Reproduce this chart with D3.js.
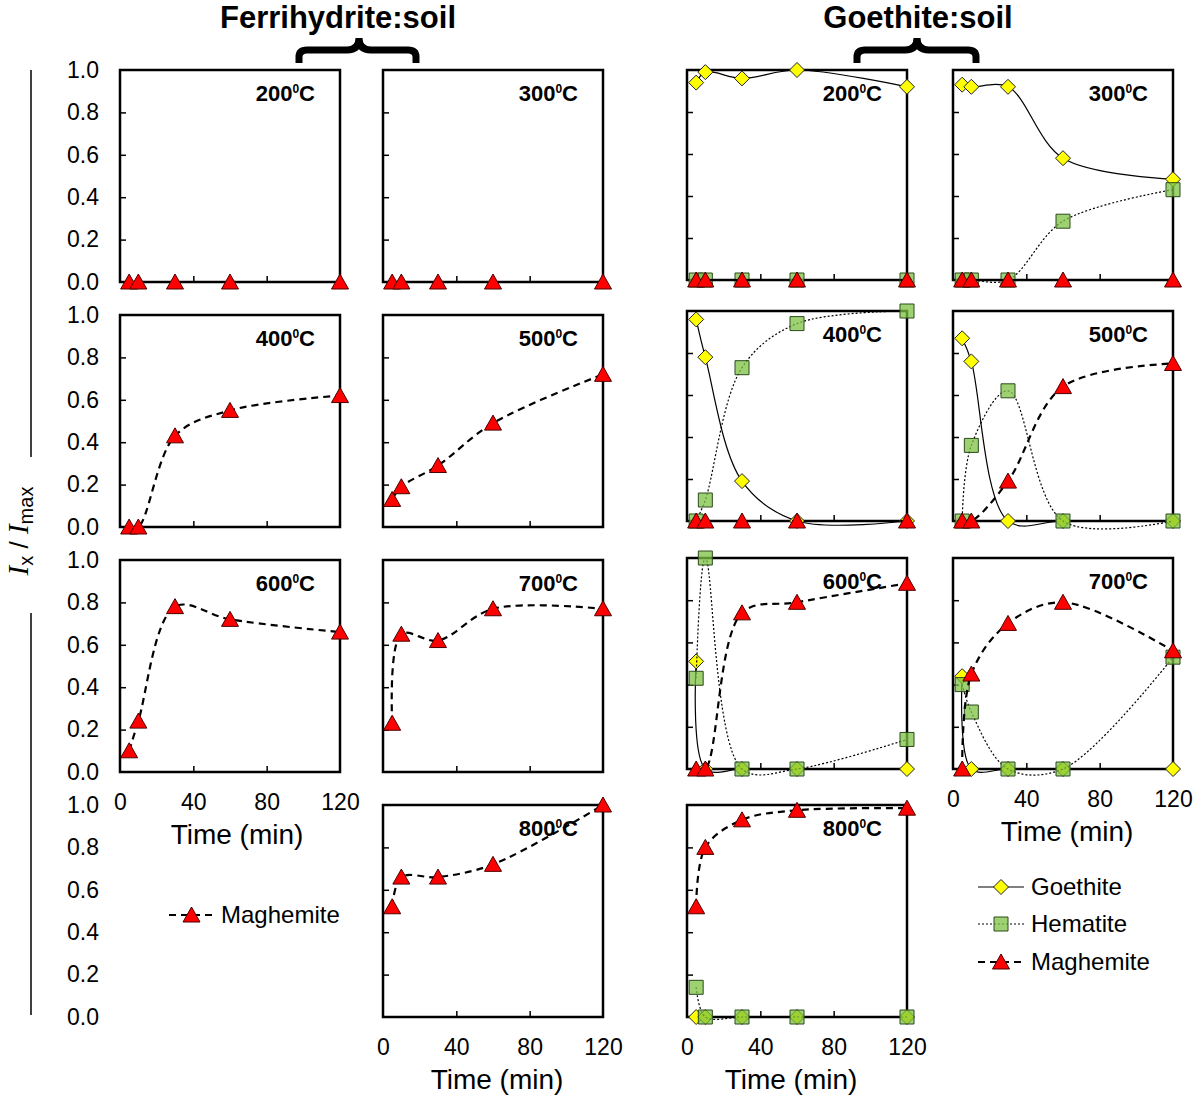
<!DOCTYPE html>
<html>
<head>
<meta charset="utf-8">
<script src="https://cdn.jsdelivr.net/npm/d3@7"></script>
<style>
  body { margin: 0; background: #fff; }
  text { font-family: "Liberation Sans", Arial, sans-serif; fill: #000; }
</style>
</head>
<body>
<div id="chart"></div>
<script>
// ---- data ----
var times = [5, 10, 30, 60, 120];
var temps = [200, 300, 400, 500, 600, 700, 800];
var yTicks = [0, 0.2, 0.4, 0.6, 0.8, 1.0];
var xTicks = [0, 40, 80, 120];

// one row per temperature (200..800), one value per time
var ferriMaghemite = [
  [0, 0, 0, 0, 0],
  [0, 0, 0, 0, 0],
  [0, 0, 0.43, 0.55, 0.62],
  [0.13, 0.19, 0.29, 0.49, 0.72],
  [0.10, 0.24, 0.78, 0.72, 0.66],
  [0.23, 0.65, 0.62, 0.77, 0.77],
  [0.52, 0.66, 0.66, 0.72, 1.0]
];
var goeGoethite = [
  [0.94, 0.99, 0.96, 1.0, 0.92],
  [0.93, 0.92, 0.92, 0.58, 0.48],
  [0.96, 0.78, 0.19, 0, 0],
  [0.87, 0.76, 0, 0, 0],
  [0.51, 0, 0, 0, 0],
  [0.44, 0, 0, 0, 0],
  [0, 0, 0, 0, 0]
];
var goeHematite = [
  [0, 0, 0, 0, 0],
  [0, 0, 0, 0.28, 0.43],
  [0, 0.10, 0.73, 0.94, 1.0],
  [0, 0.36, 0.62, 0, 0],
  [0.43, 1.0, 0, 0, 0.14],
  [0.40, 0.27, 0, 0, 0.53],
  [0.14, 0, 0, 0, 0]
];
var goeMaghemite = [
  [0, 0, 0, 0, 0],
  [0, 0, 0, 0, 0],
  [0, 0, 0, 0, 0],
  [0, 0, 0.19, 0.64, 0.75],
  [0, 0, 0.74, 0.79, 0.88],
  [0, 0.45, 0.69, 0.79, 0.56],
  [0.52, 0.80, 0.93, 0.975, 0.985]
];

// ---- layout ----
var colLeft = [120, 383, 687, 953];
var panelW = 220;
var rowTop = [70, 315, 560, 805];
var panelH = 212;
// goethite panels sit a few px higher than the ferrihydrite ones
var goeTopShift = [0, -4, -2, 0];
var goeBotShift = [-2, -6, -3, 0];
var ferriCells = [[0, 0], [0, 1], [1, 0], [1, 1], [2, 0], [2, 1], [3, 1]];
var goeCells = [[0, 2], [0, 3], [1, 2], [1, 3], [2, 2], [2, 3], [3, 2]];
var xLabelCells = ["2,0", "2,3", "3,1", "3,2"];
var timeLabelShift = [7, 4, -6, 4];

var markers = {
  triangle: "M0,-8L8.5,7L-8.5,7Z",
  diamond: "M0,-7.5L7.5,0L0,7.5L-7.5,0Z",
  square: "M-7,-7h14v14h-14Z"
};
var styles = {
  goethite: { marker: markers.diamond, fill: "#FFFF00", fillOpacity: 1, stroke: "#222", width: 1.2, dash: null },
  hematite: { marker: markers.square, fill: "#7CC242", fillOpacity: 0.75, stroke: "#2d4a1c", width: 1.2, dash: "2,2" },
  maghemite: { marker: markers.triangle, fill: "#FF0000", fillOpacity: 1, stroke: "#4a0000", width: 2.2, dash: "7,5" }
};

var svg = d3.select("#chart").append("svg")
  .attr("width", 1200)
  .attr("height", 1102);

var line = d3.line().curve(d3.curveCatmullRom.alpha(0.5));

function panelBox(r, c, goe) {
  return {
    left: colLeft[c],
    right: colLeft[c] + panelW,
    top: rowTop[r] + (goe ? goeTopShift[r] : 0),
    bottom: rowTop[r] + panelH + (goe ? goeBotShift[r] : 0)
  };
}

function drawPanel(r, c, temp, series, goe) {
  var b = panelBox(r, c, goe);
  var x = d3.scaleLinear().domain([0, 120]).range([b.left, b.right]);
  var y = d3.scaleLinear().domain([0, 1]).range([b.bottom, b.top]);
  var g = svg.append("g");

  g.append("rect")
    .attr("x", b.left).attr("y", b.top)
    .attr("width", b.right - b.left).attr("height", b.bottom - b.top)
    .attr("fill", "none").attr("stroke", "#000").attr("stroke-width", 2.5);

  // inward tick marks
  g.append("g")
    .attr("transform", `translate(${b.left},0)`)
    .call(d3.axisLeft(y).tickValues([0.2, 0.4, 0.6, 0.8]).tickSize(-6).tickFormat(""))
    .call(a => a.select(".domain").remove())
    .selectAll("line").attr("stroke-width", 1.5);
  g.append("g")
    .attr("transform", `translate(0,${b.bottom})`)
    .call(d3.axisBottom(x).tickValues([40, 80]).tickSize(-6).tickFormat(""))
    .call(a => a.select(".domain").remove())
    .selectAll("line").attr("stroke-width", 1.5);

  // temperature label
  var lab = g.append("text")
    .attr("x", b.right - 25).attr("y", b.top + 31)
    .attr("text-anchor", "end")
    .attr("font-weight", "bold").attr("font-size", 22);
  lab.append("tspan").text(temp);
  lab.append("tspan").attr("font-size", 12).attr("dy", -8).text("0");
  lab.append("tspan").attr("dy", 8).text("C");

  // series: line then markers, in legend order
  series.forEach(function(s) {
    var st = styles[s.name];
    var pts = times.map((t, i) => [x(t), y(s.values[i])]);
    g.append("path")
      .attr("d", line(pts))
      .attr("fill", "none")
      .attr("stroke", "#000")
      .attr("stroke-width", st.width)
      .attr("stroke-dasharray", st.dash);
    g.selectAll(null).data(pts).enter().append("path")
      .attr("transform", p => `translate(${p[0]},${p[1]})`)
      .attr("d", st.marker)
      .attr("fill", st.fill)
      .attr("fill-opacity", st.fillOpacity)
      .attr("stroke", st.stroke)
      .attr("stroke-width", 1);
  });

  // x tick labels and title where the figure shows them
  if (xLabelCells.indexOf(r + "," + c) >= 0) {
    g.append("g")
      .attr("transform", `translate(0,${b.bottom})`)
      .call(d3.axisBottom(x).tickValues(xTicks).tickSize(0).tickPadding(22))
      .call(a => a.select(".domain").remove())
      .selectAll("text")
      .attr("font-size", 23)
      .style("font-family", '"Liberation Sans", Arial, sans-serif');
    g.append("text")
      .attr("x", (b.left + b.right) / 2 + timeLabelShift[c])
      .attr("y", b.bottom + 72)
      .attr("text-anchor", "middle")
      .attr("font-size", 28)
      .text("Time (min)");
  }
}

temps.forEach(function(temp, i) {
  drawPanel(ferriCells[i][0], ferriCells[i][1], temp, [
    { name: "maghemite", values: ferriMaghemite[i] }
  ], false);
  drawPanel(goeCells[i][0], goeCells[i][1], temp, [
    { name: "goethite", values: goeGoethite[i] },
    { name: "hematite", values: goeHematite[i] },
    { name: "maghemite", values: goeMaghemite[i] }
  ], true);
});

// y tick labels down the left side (row 4 belongs to the 800 panel)
rowTop.forEach(function(top) {
  var y = d3.scaleLinear().domain([0, 1]).range([top + panelH, top]);
  svg.append("g")
    .attr("transform", `translate(${colLeft[0]},0)`)
    .call(d3.axisLeft(y).tickValues(yTicks).tickSize(0).tickPadding(21).tickFormat(d3.format(".1f")))
    .call(a => a.select(".domain").remove())
    .selectAll("text")
    .attr("font-size", 23)
    .style("font-family", '"Liberation Sans", Arial, sans-serif');
});

// y axis title with bracket line
svg.append("line").attr("x1", 31).attr("x2", 31).attr("y1", 70).attr("y2", 457)
  .attr("stroke", "#000").attr("stroke-width", 1.5);
svg.append("line").attr("x1", 31).attr("x2", 31).attr("y1", 613).attr("y2", 1015)
  .attr("stroke", "#000").attr("stroke-width", 1.5);
var yt = svg.append("text")
  .attr("transform", "translate(28,531) rotate(-90)")
  .attr("text-anchor", "middle");
yt.append("tspan").style("font-family", '"Liberation Serif", "Times New Roman", serif')
  .attr("font-style", "italic").attr("font-size", 29).text("I");
yt.append("tspan").attr("font-size", 20).attr("dy", 5).text("x");
yt.append("tspan").attr("font-size", 26).attr("dy", -5).text(" / ");
yt.append("tspan").style("font-family", '"Liberation Serif", "Times New Roman", serif')
  .attr("font-style", "italic").attr("font-size", 29).text("I");
yt.append("tspan").attr("font-size", 20).attr("dy", 5).text("max");

// group titles with braces
function brace(x0, xc, x1) {
  var yTip = 38, yBar = 50, yEnd = 63;
  return `M${x0},${yEnd}L${x0},${yBar + 7}Q${x0},${yBar} ${x0 + 8},${yBar}` +
    `L${xc - 12},${yBar}Q${xc},${yBar} ${xc},${yTip}` +
    `Q${xc},${yBar} ${xc + 12},${yBar}L${x1 - 8},${yBar}` +
    `Q${x1},${yBar} ${x1},${yBar + 7}L${x1},${yEnd}`;
}
svg.append("text").attr("x", 338).attr("y", 28).attr("text-anchor", "middle")
  .attr("font-weight", "bold").attr("font-size", 31).text("Ferrihydrite:soil");
svg.append("text").attr("x", 918).attr("y", 28).attr("text-anchor", "middle")
  .attr("font-weight", "bold").attr("font-size", 31).text("Goethite:soil");
svg.append("path").attr("d", brace(299, 359, 416))
  .attr("fill", "none").attr("stroke", "#000").attr("stroke-width", 7);
svg.append("path").attr("d", brace(857, 917, 976))
  .attr("fill", "none").attr("stroke", "#000").attr("stroke-width", 7);

// legends
function legendItem(name, label, x0, x1, y) {
  var st = styles[name];
  svg.append("line").attr("x1", x0).attr("x2", x1).attr("y1", y).attr("y2", y)
    .attr("stroke", "#000").attr("stroke-width", st.width).attr("stroke-dasharray", st.dash);
  svg.append("path").attr("transform", `translate(${(x0 + x1) / 2},${y})`)
    .attr("d", st.marker).attr("fill", st.fill).attr("fill-opacity", st.fillOpacity)
    .attr("stroke", st.stroke).attr("stroke-width", 1);
  svg.append("text").attr("x", x1 + 7).attr("y", y).attr("dy", "0.35em")
    .attr("font-size", 24).text(label);
}
legendItem("maghemite", "Maghemite", 169, 214, 915);
legendItem("goethite", "Goethite", 978, 1024, 887);
legendItem("hematite", "Hematite", 978, 1024, 924);
legendItem("maghemite", "Maghemite", 978, 1024, 962);
</script>
</body>
</html>
